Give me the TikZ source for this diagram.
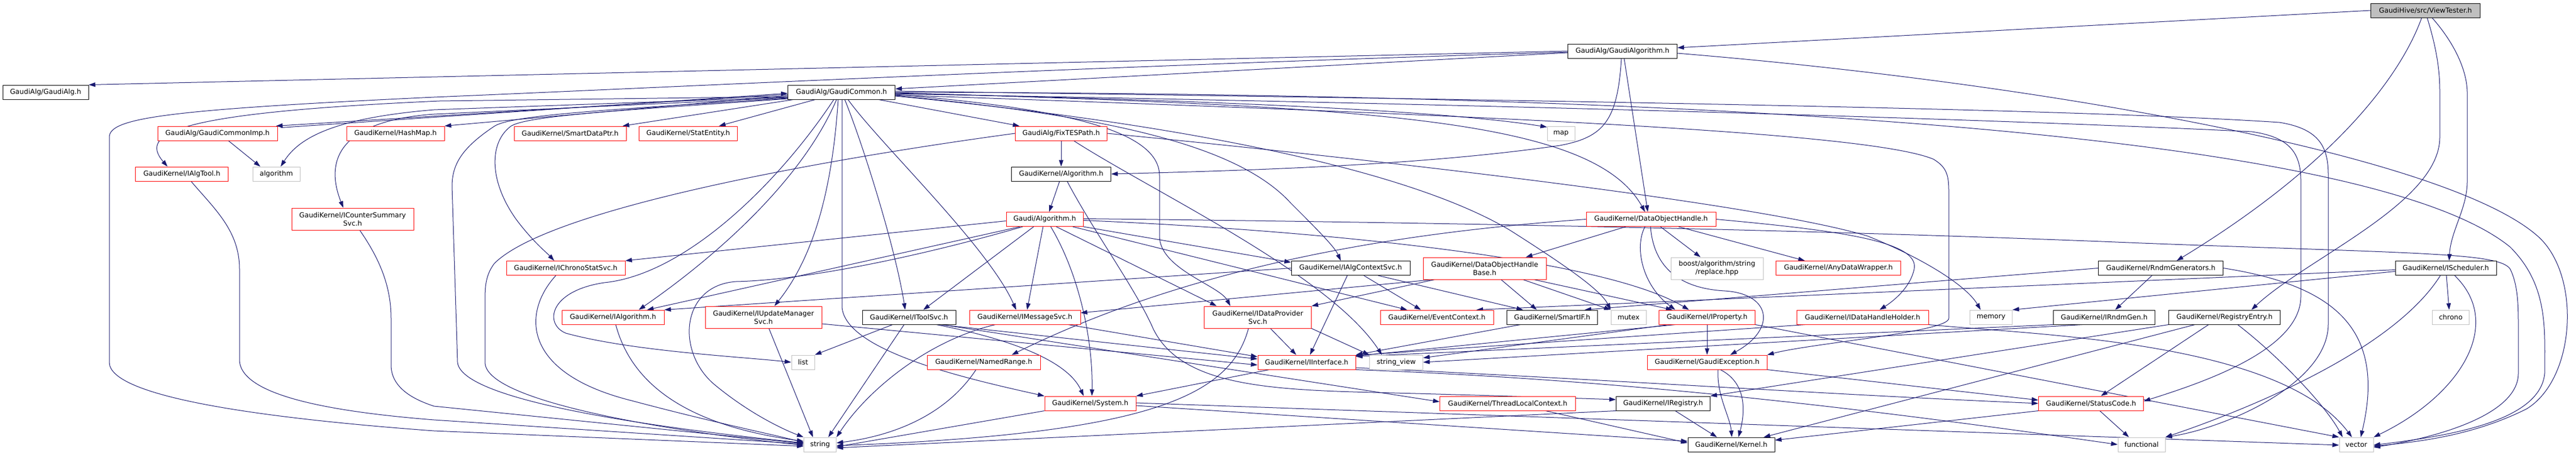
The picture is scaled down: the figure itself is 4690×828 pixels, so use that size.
\documentclass[tikz,border=0pt]{standalone}
\usepackage{fontspec}
\setmainfont{DejaVu Sans}
\usetikzlibrary{arrows.meta}
\definecolor{ecol}{HTML}{191970}
\definecolor{bgray}{HTML}{BFBFBF}
\definecolor{nred}{HTML}{FF0000}
\newcommand\nf{\fontsize{12.5}{15}\selectfont}
\pgfdeclarelayer{edges}
\pgfsetlayers{edges,main}
\tikzset{
  nb/.style={draw=black, fill=white, line width=1pt, minimum height=26pt, inner xsep=4pt, inner ysep=0pt, font=\nf, align=center},
  nr/.style={nb, draw=nred},
  ng/.style={nb, draw=bgray},
  nr2/.style={nr, minimum height=40pt},
  ng2/.style={ng, minimum height=40pt},
  edg/.style={draw=ecol, line width=1pt, -{Triangle[length=12pt,width=8pt]}}
}
\begin{document}
\begin{tikzpicture}[x=1pt,y=1pt]
\useasboundingbox (0,0) rectangle (4690,-828);
% nodes
\node[nb, fill=bgray, minimum width=199pt] (VT) at (4416,-19) {GaudiHive/src/ViewTester.h};
\node[nb, minimum width=199pt] (GA) at (2954,-93) {GaudiAlg/GaudiAlgorithm.h};
\node[nb, minimum width=156pt] (GAH) at (83,-168) {GaudiAlg/GaudiAlg.h};
\node[nb, minimum width=195pt] (GC) at (1532,-168) {GaudiAlg/GaudiCommon.h};
\node[nr, minimum width=218pt] (GCI) at (396,-243) {GaudiAlg/GaudiCommonImp.h};
\node[nr, minimum width=178pt] (HM) at (720,-243) {GaudiKernel/HashMap.h};
\node[nr, minimum width=204pt] (SDP) at (1038,-243) {GaudiKernel/SmartDataPtr.h};
\node[nr, minimum width=179pt] (SE) at (1253,-243) {GaudiKernel/StatEntity.h};
\node[nr, minimum width=167pt] (FTP) at (1932,-243) {GaudiAlg/FixTESPath.h};
\node[ng, minimum width=50pt] (MAP) at (2842,-243) {map};
\node[nr, minimum width=169pt] (IAT) at (331,-317) {GaudiKernel/IAlgTool.h};
\node[ng, minimum width=86pt] (ALGO) at (503,-317) {algorithm};
\node[nb, minimum width=181pt] (KALG) at (1932,-317) {GaudiKernel/Algorithm.h};
\node[nr2, minimum width=222pt] (ICS) at (642,-399) {GaudiKernel/ICounterSummary\\Svc.h};
\node[nr, minimum width=140pt] (GALG) at (1902,-399.5) {Gaudi/Algorithm.h};
\node[nr, minimum width=236pt] (DOH) at (3006,-399.5) {GaudiKernel/DataObjectHandle.h};
\node[nr, minimum width=216pt] (ICSS) at (1030,-488.5) {GaudiKernel/IChronoStatSvc.h};
\node[nb, minimum width=216pt] (IACS) at (2459,-488.5) {GaudiKernel/IAlgContextSvc.h};
\node[nr2, minimum width=224pt] (DOHB) at (2703,-489) {GaudiKernel/DataObjectHandle\\Base.h};
\node[ng2, minimum width=168pt] (BOOST) at (3126,-489) {boost/algorithm/string\\/replace.hpp};
\node[nr, minimum width=227pt] (ADW) at (3347,-488.5) {GaudiKernel/AnyDataWrapper.h};
\node[nb, minimum width=227pt] (RG) at (3934,-488.5) {GaudiKernel/RndmGenerators.h};
\node[nb, minimum width=184pt] (ISCH) at (4453,-488.5) {GaudiKernel/IScheduler.h};
\node[nr, minimum width=186pt] (IALG) at (1116,-578) {GaudiKernel/IAlgorithm.h};
\node[nr2, minimum width=212pt] (IUMS) at (1390,-578) {GaudiKernel/IUpdateManager\\Svc.h};
\node[nb, minimum width=170pt] (ITS) at (1655,-578) {GaudiKernel/IToolSvc.h};
\node[nr, minimum width=202pt] (IMS) at (1866,-578) {GaudiKernel/IMessageSvc.h};
\node[nr2, minimum width=195pt] (IDPS) at (2290,-578) {GaudiKernel/IDataProvider\\Svc.h};
\node[nr, minimum width=206pt] (EC) at (2616,-578) {GaudiKernel/EventContext.h};
\node[nb, minimum width=165pt] (SIF) at (2826,-578) {GaudiKernel/SmartIF.h};
\node[ng, minimum width=64pt] (MUTEX) at (2965,-578) {mutex};
\node[nr, minimum width=175pt] (IPROP) at (3108,-578) {GaudiKernel/IProperty.h};
\node[nr, minimum width=240pt] (IDHH) at (3391,-578) {GaudiKernel/IDataHandleHolder.h};
\node[ng, minimum width=77pt] (MEM) at (3625,-578) {memory};
\node[nb, minimum width=185pt] (IRG) at (3831,-578) {GaudiKernel/IRndmGen.h};
\node[nb, minimum width=203pt] (RE) at (4050,-578) {GaudiKernel/RegistryEntry.h};
\node[ng, minimum width=67pt] (CHRONO) at (4462,-578) {chrono};
\node[ng, minimum width=42pt] (LIST) at (1462,-660) {list};
\node[nr, minimum width=206pt] (NR) at (1791,-660) {GaudiKernel/NamedRange.h};
\node[nr, minimum width=178pt] (IIF) at (2379,-660) {GaudiKernel/IInterface.h};
\node[ng, minimum width=97pt] (SV) at (2542,-660) {string\_view};
\node[nr, minimum width=218pt] (GE) at (3108,-660) {GaudiKernel/GaudiException.h};
\node[nr, minimum width=166pt] (SYS) at (1985,-735) {GaudiKernel/System.h};
\node[nr, minimum width=247pt] (TLC) at (2745,-735) {GaudiKernel/ThreadLocalContext.h};
\node[nb, minimum width=171pt] (IREG) at (3028,-735) {GaudiKernel/IRegistry.h};
\node[nr, minimum width=191pt] (SC) at (3807,-735) {GaudiKernel/StatusCode.h};
\node[ng, minimum width=59pt] (STR) at (1493,-810) {string};
\node[nb, minimum width=158pt] (KERN) at (3152,-810) {GaudiKernel/Kernel.h};
\node[ng, minimum width=86pt] (FUNC) at (3899,-810) {functional};
\node[ng, minimum width=62pt] (VEC) at (4290,-810) {vector};

\begin{pgfonlayer}{edges}
\fill[white] (0,0) rectangle (4690,-828);
% ViewTester
\draw[edg] (VT.west) -- ([yshift=6pt]GA.east);
\draw[edg] ([xshift=-7pt]VT.south) .. controls (4370,-140) and (4250,-300) .. ([xshift=29pt]RG.north);
\draw[edg] ([xshift=3pt]VT.south) .. controls (4440,-100) and (4442,-140) .. (4442,-170) -- (4442,-250) .. controls (4442,-370) and (4200,-470) .. ([xshift=49pt]RE.north);
\draw[edg] ([xshift=12pt]VT.south) .. controls (4470,-80) and (4492,-130) .. (4492,-170) -- (4492,-330) .. controls (4492,-380) and (4462,-420) .. ([xshift=6pt]ISCH.north);
% GaudiAlgorithm
\draw[edg] (GA.west) -- (GAH.north east);
\draw[edg] ([yshift=-3pt]GA.west) -- ([yshift=6pt]GC.east);
\draw[edg] ([xshift=-2pt]GA.south) .. controls (2945,-220) and (2920,-250) .. (2840,-265) .. controls (2600,-300) and (2300,-310) .. (KALG.east);
\draw[edg] ([xshift=3pt]GA.south) -- ([xshift=-6pt]DOH.north);
\draw[edg] ([yshift=-2pt]GA.west) .. controls (2000,-120) and (1200,-160) .. (790,-177) .. controls (300,-200) and (199,-215) .. (199,-250) -- (199,-660) .. controls (199,-720) and (450,-760) .. (790,-785) -- ([yshift=-3pt]STR.west);
\draw[edg] ([yshift=-4pt]GA.east) .. controls (3700,-150) and (4450,-280) .. (4620,-430) .. controls (4700,-500) and (4690,-690) .. (4600,-745) .. controls (4500,-795) and (4400,-805) .. ([yshift=-3pt]VEC.east);
% GaudiCommon
\draw[edg] ([yshift=-4pt]GC.west) -- ([xshift=-3pt]GCI.north east);
\draw[edg] ([xshift=6pt,yshift=-3pt]GCI.north east) -- ([yshift=-2pt]GC.west);
\draw[edg] ([yshift=-6pt]GC.west) -- (HM.north east);
\draw[edg] ([xshift=10pt]GC.south west) -- ([xshift=-7pt]SDP.north east);
\draw[edg] ([xshift=50pt]GC.south west) -- ([xshift=-34pt]SE.north east);
\draw[edg] ([xshift=-30pt]GC.south east) -- ([xshift=8pt]FTP.north west);
\draw[edg] ([yshift=-2pt]GC.east) .. controls (2300,-185) and (2650,-205) .. ([yshift=-2pt]MAP.north west);
\draw[edg] ([yshift=-8pt]GC.west) -- (800,-184) .. controls (330,-205) and (250,-240) .. ([xshift=-26pt]IAT.north);
\draw[edg] ([yshift=-9pt]GC.west) -- (790,-200) .. controls (610,-215) and (545,-250) .. ([xshift=8pt]ALGO.north);
\draw[edg] ([xshift=20pt]GCI.south) -- ([xshift=-29pt]ALGO.north);
\draw[edg] ([yshift=-10pt]GC.west) -- (790,-208) .. controls (620,-220) and (590,-290) .. ([xshift=-17pt]ICS.north);
\draw[edg] ([yshift=-11pt]GC.west) .. controls (1100,-200) and (930,-210) .. (900,-230) .. controls (840,-270) and (823,-300) .. (823,-340) -- (833,-660) .. controls (840,-740) and (1300,-790) .. ([yshift=3pt]STR.west);
\draw[edg] ([yshift=-12pt]GC.west) .. controls (1150,-200) and (960,-210) .. (930,-230) .. controls (890,-260) and (890,-330) .. (940,-400) .. controls (970,-440) and (995,-460) .. ([xshift=-21pt]ICSS.north);
\draw[edg] ([xshift=-14pt]GC.south) .. controls (1420,-330) and (1250,-500) .. (1100,-515) .. controls (1000,-530) and (990,-590) .. (1030,-607) .. controls (1150,-640) and (1350,-650) .. (LIST.west);
\draw[edg] ([xshift=-9pt]GC.south) .. controls (1460,-330) and (1300,-470) .. ([xshift=47pt]IALG.north);
\draw[edg] ([xshift=-6pt]GC.south) .. controls (1515,-350) and (1480,-470) .. ([xshift=20pt]IUMS.north);
\draw[edg] ([xshift=1pt]GC.south) -- (1533,-560) .. controls (1540,-640) and (1760,-690) .. (SYS.north west);
\draw[edg] ([xshift=6pt]GC.south) .. controls (1570,-260) and (1630,-450) .. ([xshift=-7pt]ITS.north);
\draw[edg] ([xshift=12pt]GC.south) .. controls (1600,-260) and (1800,-450) .. ([xshift=-16pt]IMS.north);
\draw[edg] ([yshift=-4pt]GC.east) .. controls (1900,-195) and (2111,-230) .. (2111,-320) -- (2111,-430) .. controls (2111,-490) and (2220,-520) .. ([xshift=-50pt]IDPS.north);
\draw[edg] ([yshift=-6pt]GC.east) .. controls (2000,-210) and (2250,-260) .. (2350,-370) .. controls (2400,-420) and (2430,-450) .. ([xshift=-18pt]IACS.north);
\draw[edg] ([yshift=-1pt]GC.east) .. controls (2500,-195) and (2900,-215) .. ([xshift=-11pt]DOH.north);
\draw[edg] ([yshift=-7pt]GC.east) .. controls (2100,-220) and (2550,-300) .. (2750,-420) .. controls (2860,-490) and (2915,-530) .. (MUTEX.north west);
\draw[edg] (GC.east) .. controls (3000,-170) and (4300,-230) .. (4570,-450) .. controls (4640,-520) and (4633,-600) .. (4633,-680) .. controls (4625,-770) and (4450,-795) .. ([yshift=-1pt]VEC.east);
\draw[edg] ([yshift=2pt]GC.east) .. controls (3000,-185) and (3800,-200) .. (4150,-223) .. controls (4225,-235) and (4239,-270) .. (4239,-320) -- (4239,-590) .. controls (4239,-700) and (4050,-780) .. (FUNC.north east);
\draw[edg] ([yshift=-3pt]GC.east) .. controls (3000,-195) and (3800,-225) .. (4100,-240) .. controls (4170,-250) and (4189,-280) .. (4189,-330) -- (4189,-540) .. controls (4189,-640) and (4000,-700) .. ([yshift=4pt]SC.east);
\draw[edg] ([yshift=-5pt]GC.east) .. controls (2700,-210) and (3400,-240) .. (3520,-290) .. controls (3545,-305) and (3548,-320) .. (3548,-350) -- (3548,-580) .. controls (3548,-605) and (3300,-625) .. (GE.north east);
% left side to string
\draw[edg] ([xshift=17pt]IAT.south) .. controls (390,-380) and (436,-420) .. (436,-490) -- (436,-655) .. controls (436,-720) and (600,-750) .. (790,-765) -- ([yshift=1pt]STR.west);
\draw[edg] ([xshift=13pt]ICS.south) .. controls (690,-470) and (712,-520) .. (712,-580) -- (712,-665) .. controls (712,-710) and (760,-730) .. (790,-740) -- ([yshift=2pt]STR.west);
% FixTESPath
\draw[edg] (FTP.south) -- (KALG.north);
\draw[edg] (FTP.west) .. controls (1500,-290) and (1000,-380) .. (900,-480) .. controls (885,-500) and (883,-520) .. (883,-545) -- (883,-660) .. controls (883,-740) and (1300,-795) .. ([yshift=-1pt]STR.west);
\draw[edg] ([xshift=23pt]FTP.south) .. controls (2100,-350) and (2420,-500) .. ([xshift=-26pt]SV.north);
\draw[edg] (FTP.east) .. controls (2500,-290) and (3200,-370) .. (3400,-430) .. controls (3500,-470) and (3580,-520) .. ([xshift=-19pt]MEM.north);
% Algorithm.h
\draw[edg] ([xshift=-3pt]KALG.south) -- ([xshift=8pt]GALG.north);
\draw[edg] ([xshift=11pt]KALG.south) .. controls (1990,-420) and (2070,-530) .. (2100,-600) .. controls (2150,-700) and (2300,-710) .. (2500,-715) .. controls (2700,-720) and (2850,-725) .. ([yshift=7pt]IREG.west);
% Gaudi/Algorithm.h
\draw[edg] ([yshift=-3pt]GALG.west) -- (ICSS.north east);
\draw[edg] ([xshift=-45pt]GALG.south) -- ([xshift=62pt]IALG.north);
\draw[edg] ([xshift=-40pt]GALG.south) .. controls (1700,-460) and (1480,-510) .. (1340,-513) .. controls (1240,-520) and (1230,-640) .. (1300,-700) .. controls (1360,-750) and (1420,-780) .. (STR.north west);
\draw[edg] ([xshift=-20pt]GALG.south) -- ([xshift=26pt]ITS.north);
\draw[edg] ([xshift=-3pt]GALG.south) -- ([xshift=4pt]IMS.north);
\draw[edg] ([xshift=11pt]GALG.south) .. controls (1965,-500) and (1990,-620) .. ([xshift=3pt]SYS.north);
\draw[edg] ([xshift=21pt]GALG.south) -- ([xshift=-75pt]IDPS.north);
\draw[edg] ([xshift=51pt]GALG.south) -- ([xshift=-54pt]EC.north);
\draw[edg] (GALG.south east) -- ([yshift=-3pt]IACS.north west);
\draw[edg] ([yshift=-2pt]GALG.east) .. controls (2300,-415) and (2900,-460) .. ([xshift=-33pt]IPROP.north);
\draw[edg] ([yshift=1pt]GALG.east) .. controls (2600,-405) and (3300,-418) .. (3900,-443) .. controls (4400,-462) and (4550,-460) .. (4570,-490) .. controls (4585,-520) and (4585,-560) .. (4585,-600) -- (4585,-680) .. controls (4585,-760) and (4420,-800) .. ([yshift=-5pt]VEC.east);
% IAlgContextSvc
\draw[edg] (IACS.west) -- (IALG.north east);
\draw[edg] ([xshift=-6pt]IACS.south) -- ([xshift=6pt]IIF.north);
\draw[edg] ([xshift=24pt]IACS.south) -- ([xshift=-29pt]EC.north);
\draw[edg] ([xshift=50pt]IACS.south) -- ([xshift=-53pt]SIF.north);
% DataObjectHandle
\draw[edg] ([xshift=-46pt]DOH.south) -- ([xshift=75pt]DOHB.north);
\draw[edg] (DOH.west) .. controls (2600,-420) and (2200,-470) .. ([xshift=51pt]NR.north);
\draw[edg] ([xshift=-1pt]DOH.south) .. controls (3010,-480) and (3050,-525) .. (3140,-530) .. controls (3225,-535) and (3235,-600) .. ([xshift=42pt]GE.north);
\draw[edg] ([xshift=-11pt]DOH.south) .. controls (2975,-450) and (2990,-520) .. ([xshift=-58pt]IPROP.north);
\draw[edg] ([xshift=17pt]DOH.south) -- ([xshift=-30pt]BOOST.north);
\draw[edg] ([xshift=50pt]DOH.south) -- ([xshift=-61pt]ADW.north);
\draw[edg] (DOH.east) .. controls (3350,-420) and (3495,-440) .. (3485,-490) .. controls (3478,-525) and (3445,-550) .. ([xshift=31pt]IDHH.north);
% DataObjectHandleBase
\draw[edg] ([xshift=-91pt]DOHB.south) -- (IDPS.north east);
\draw[edg] ([xshift=-95pt]DOHB.south) -- ([yshift=8pt]IMS.east);
\draw[edg] ([xshift=30pt]DOHB.south) -- ([xshift=-28pt]SIF.north);
\draw[edg] ([xshift=70pt]DOHB.south) -- (MUTEX.north west);
\draw[edg] ([xshift=90pt]DOHB.south) -- ([xshift=-63pt]IPROP.north);
% middle rows
\draw[edg] ([xshift=-18pt]ICSS.south) .. controls (950,-570) and (950,-680) .. (1150,-730) .. controls (1300,-770) and (1400,-790) .. ([yshift=4pt]STR.west);
\draw[edg] ([xshift=5pt]IALG.south) .. controls (1150,-700) and (1250,-775) .. ([yshift=6pt]STR.west);
\draw[edg] ([xshift=10pt]IUMS.south) -- ([xshift=-13pt]STR.north);
\draw[edg] ([yshift=-12pt]IUMS.east) -- ([yshift=-5pt]IIF.west);
\draw[edg] ([xshift=-30pt]ITS.south) -- (LIST.north east);
\draw[edg] ([xshift=-9pt]ITS.south) -- ([xshift=15pt]STR.north);
\draw[edg] ([xshift=56pt]ITS.south) -- ([yshift=6pt]IIF.west);
\draw[edg] ([xshift=50pt]ITS.south) .. controls (1850,-620) and (1945,-660) .. ([xshift=-12pt]SYS.north);
\draw[edg] ([xshift=60pt]ITS.south) -- ([yshift=3pt]TLC.west);
\draw[edg] ([xshift=-54pt]IMS.south) .. controls (1690,-620) and (1580,-710) .. (STR.north east);
\draw[edg] ([xshift=79pt]IMS.south) -- ([yshift=10pt]IIF.west);
\draw[edg] ([xshift=-17pt]IDPS.south) .. controls (2240,-720) and (2100,-790) .. ([yshift=-2pt]STR.east);
\draw[edg] ([xshift=23pt]IDPS.south) -- ([xshift=-19pt]IIF.north);
\draw[edg] (IDPS.south east) -- (SV.north west);
\draw[edg] ([xshift=-14pt]NR.south) .. controls (1720,-760) and (1620,-795) .. ([yshift=3pt]STR.east);
\draw[edg] (SYS.south west) -- ([yshift=-4pt]STR.east);
\draw[edg] ([yshift=-4pt]SYS.east) -- ([yshift=6pt]KERN.west);
\draw[edg] ([yshift=1pt]SYS.east) -- ([yshift=-1pt]VEC.west);
\draw[edg] ([xshift=-68pt]IIF.south) -- (SYS.north east);
\draw[edg] ([yshift=-10pt]IIF.east) .. controls (2900,-690) and (3350,-720) .. (SC.west);
\draw[edg] (IIF.south east) .. controls (2900,-690) and (3300,-730) .. (FUNC.west);
\draw[edg] ([xshift=-58pt]SIF.south) -- (IIF.north east);
\draw[edg] ([xshift=-58pt]IPROP.south) -- ([yshift=-2pt]IIF.north east);
\draw[edg] (IPROP.south) -- (GE.north);
\draw[edg] ([xshift=-70pt]IPROP.south) -- ([yshift=8pt]SV.east);
\draw[edg] (IPROP.south east) -- (VEC.north west);
\draw[edg] ([xshift=-105pt]IDHH.south) -- ([yshift=-1pt]IIF.north east);
\draw[edg] (IDHH.south east) .. controls (3700,-610) and (4150,-620) .. ([xshift=-8pt]VEC.north);
\draw[edg] (GE.south east) -- ([yshift=6pt]SC.west);
\draw[edg] ([xshift=20pt]GE.south) .. controls (3125,-720) and (3150,-760) .. ([xshift=1pt]KERN.north);
\draw[edg] ([xshift=24pt]GE.south) .. controls (3185,-700) and (3175,-760) .. ([xshift=13pt]KERN.north);
\draw[edg] ([xshift=-55pt]TLC.south east) -- ([yshift=3pt]KERN.west);
\draw[edg] ([xshift=22pt]IREG.south) -- ([xshift=-26pt]KERN.north);
\draw[edg] (IREG.south west) -- ([yshift=-6pt]STR.east);
\draw[edg] (SC.south west) -- ([yshift=8pt]KERN.east);
\draw[edg] ([xshift=16pt]SC.south) -- ([xshift=-23pt]FUNC.north);
% right side
\draw[edg] ([xshift=-54pt]RE.south) -- ([xshift=59pt]KERN.north);
\draw[edg] ([xshift=-29pt]RE.south) -- ([xshift=18pt]SC.north);
\draw[edg] ([xshift=24pt]RE.south) .. controls (4150,-650) and (4235,-740) .. ([xshift=-25pt]VEC.north);
\draw[edg] (RE.south west) -- (IREG.north east);
\draw[edg] (IRG.south west) -- ([yshift=-3pt]IIF.north east);
\draw[edg] ([xshift=-40pt]IRG.south) -- (SV.east);
\draw[edg] ([yshift=-3pt]ISCH.west) -- ([xshift=72pt]EC.north);
\draw[edg] ([yshift=-6pt]ISCH.west) -- (MEM.north east);
\draw[edg] ([xshift=1pt]ISCH.south) -- ([xshift=-3pt]CHRONO.north);
\draw[edg] ([xshift=16pt]ISCH.south) .. controls (4560,-590) and (4480,-720) .. (VEC.north east);
\draw[edg] ([xshift=-10pt]ISCH.south) .. controls (4350,-650) and (4050,-760) .. (FUNC.north east);
\draw[edg] ([xshift=-16pt]RG.south) -- ([xshift=20pt]IRG.north);
\draw[edg] (RG.east) .. controls (4250,-520) and (4345,-600) .. ([xshift=8pt]VEC.north);
\draw[edg] (RG.west) -- ([xshift=-24pt]SIF.north east);
\end{pgfonlayer}
\end{tikzpicture}
\end{document}
